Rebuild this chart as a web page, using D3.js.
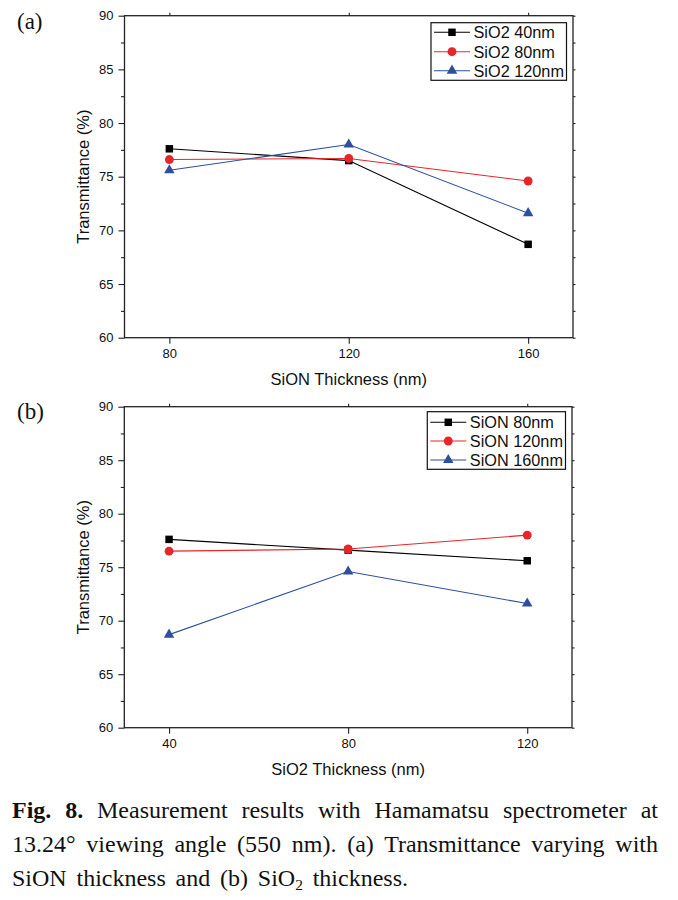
<!DOCTYPE html>
<html><head><meta charset="utf-8">
<script src="https://cdn.jsdelivr.net/npm/d3@7/dist/d3.min.js"></script>
<style>body{margin:0;background:#fff}svg{display:block}</style>
</head><body>
<svg id="c" width="678" height="900"></svg>
<script>
// ---- data ----
const sionThickness = [80, 120, 160];          // panel (a) x categories (nm)
const sio2Thickness = [40, 80, 120];           // panel (b) x categories (nm)
const panelANames = ["SiO2 40nm", "SiO2 80nm", "SiO2 120nm"];
const panelA_SiO2_40 = [77.6, 76.5, 68.7];
const panelA_SiO2_80 = [76.6, 76.7, 74.6];
const panelA_SiO2_120 = [75.6, 78.0, 71.6];
const panelBNames = ["SiON 80nm", "SiON 120nm", "SiON 160nm"];
const panelB_SiON_80 = [77.6, 76.6, 75.6];
const panelB_SiON_120 = [76.5, 76.7, 78.0];
const panelB_SiON_160 = [68.7, 74.6, 71.6];
const yTickValues = [60, 65, 70, 75, 80, 85, 90];
const yMinorValues = [62.5, 67.5, 72.5, 77.5, 82.5, 87.5];
const seriesColors = ["#000000", "#e8262a", "#2d4f9e"];
const seriesSymbols = [d3.symbolSquare, d3.symbolCircle, d3.symbolTriangle];
const symbolSizes = [56, 62, 48];

const svg = d3.select("#c");
const SANS = "'Liberation Sans', Arial, sans-serif";
const SERIF = "'Liberation Serif', 'Times New Roman', serif";

function drawPanel(o) {
  const x = d3.scaleLinear().domain(o.xDomain).range([o.left, o.right]);
  const y = d3.scaleLinear().domain([60, 90]).range([o.bottom, o.top]);
  const g = svg.append("g");
  const axisColor = "#222";

  const la = g.append("g").attr("transform", `translate(${o.left},0)`)
    .call(d3.axisLeft(y).tickValues(yTickValues).tickSize(6).tickPadding(5).tickSizeOuter(0));
  const lm = g.append("g").attr("transform", `translate(${o.left},0)`)
    .call(d3.axisLeft(y).tickValues(yMinorValues).tickSize(3.5).tickFormat("").tickSizeOuter(0));
  const ra = g.append("g").attr("transform", `translate(${o.right},0)`)
    .call(d3.axisRight(y).tickValues(yTickValues.concat(yMinorValues)).tickSize(2.5).tickFormat("").tickSizeOuter(0));
  const ba = g.append("g").attr("transform", `translate(0,${o.bottom})`)
    .call(d3.axisBottom(x).tickValues(o.xTicks).tickSize(6).tickPadding(5).tickSizeOuter(0));
  const ta = g.append("g").attr("transform", `translate(0,${o.top})`)
    .call(d3.axisTop(x).tickValues(o.xTicks).tickSize(3).tickFormat("").tickSizeOuter(0));
  [la, lm, ra, ba, ta].forEach(a => {
    a.select(".domain").remove();
    a.selectAll("line").attr("stroke", axisColor).attr("stroke-width", 1.1);
    a.selectAll("text").attr("font-family", SANS).attr("font-size", 13).attr("fill", "#111");
  });
  g.append("rect").attr("x", o.left).attr("y", o.top)
    .attr("width", o.right - o.left).attr("height", o.bottom - o.top)
    .attr("fill", "none").attr("stroke", axisColor).attr("stroke-width", 1.3);

  g.append("text").attr("x", (o.left + o.right) / 2).attr("y", o.bottom + 47)
    .attr("text-anchor", "middle").attr("font-family", SANS).attr("font-size", 16.5)
    .attr("fill", "#111").text(o.xTitle);
  g.append("text").attr("transform", `translate(${o.left - 41},${(o.top + o.bottom) / 2}) rotate(-90)`)
    .attr("text-anchor", "middle").attr("dy", "0.35em").attr("font-family", SANS).attr("font-size", 16.5)
    .attr("fill", "#111").text("Transmittance (%)");
  g.append("text").attr("x", 17).attr("y", o.labelY).attr("font-family", SERIF)
    .attr("font-size", 23).attr("fill", "#111").text(o.label);

  const line = d3.line().x(d => x(d[0])).y(d => y(d[1]));
  o.series.forEach((vals, i) => {
    const pts = o.xCats.map((c, j) => [c, vals[j]]);
    const sg = g.append("g");
    sg.append("path").datum(pts).attr("d", line).attr("fill", "none")
      .attr("stroke", seriesColors[i]).attr("stroke-width", 1.1);
    sg.selectAll("path.m").data(pts).join("path").attr("class", "m")
      .attr("transform", d => `translate(${x(d[0])},${y(d[1])})`)
      .attr("d", d3.symbol().type(seriesSymbols[i]).size(symbolSizes[i]))
      .attr("fill", seriesColors[i]);
  });

  const lg = g.append("g");
  const boxRight = o.right - 6.5;
  const texts = o.names.map((n, i) => lg.append("text").attr("font-family", SANS)
    .attr("font-size", 16.3).attr("fill", "#111").attr("y", o.legendRows[i]).attr("dy", "0.36em").text(n));
  const maxW = d3.max(texts, t => t.node().getComputedTextLength());
  const textX = boxRight - 2.5 - maxW;
  texts.forEach(t => t.attr("x", textX));
  const mx = textX - 21.5;
  o.names.forEach((n, i) => {
    lg.append("line").attr("x1", mx - 18).attr("x2", mx + 18)
      .attr("y1", o.legendRows[i]).attr("y2", o.legendRows[i])
      .attr("stroke", seriesColors[i]).attr("stroke-width", 1.1);
    lg.append("path").attr("transform", `translate(${mx},${o.legendRows[i]})`)
      .attr("d", d3.symbol().type(seriesSymbols[i]).size(symbolSizes[i]))
      .attr("fill", seriesColors[i]);
  });
  lg.insert("rect", ":first-child").attr("x", mx - 21).attr("y", o.legendTop)
    .attr("width", boxRight - (mx - 21)).attr("height", o.legendBottom - o.legendTop)
    .attr("fill", "#fff").attr("stroke", "#111").attr("stroke-width", 1.2);
}

drawPanel({
  label: "(a)", labelY: 29,
  left: 124.5, right: 573, top: 15.7, bottom: 337.7,
  xDomain: [70, 170], xTicks: sionThickness, xCats: sionThickness,
  xTitle: "SiON Thickness (nm)",
  series: [panelA_SiO2_40, panelA_SiO2_80, panelA_SiO2_120], names: panelANames,
  legendTop: 22.7, legendBottom: 80.3, legendRows: [32.3, 51.7, 70.7]
});
drawPanel({
  label: "(b)", labelY: 419,
  left: 124.3, right: 572, top: 406.7, bottom: 727.7,
  xDomain: [30, 130], xTicks: sio2Thickness, xCats: sio2Thickness,
  xTitle: "SiO2 Thickness (nm)",
  series: [panelB_SiON_80, panelB_SiON_120, panelB_SiON_160], names: panelBNames,
  legendTop: 411.7, legendBottom: 469.3, legendRows: [422.3, 441, 460]
});

// caption
const cap = svg.append("g").attr("font-family", SERIF).attr("font-size", 24).attr("fill", "#111");
const capLeft = 12, capRight = 658;
const l1 = cap.append("text").attr("x", capLeft).attr("y", 818);
l1.append("tspan").attr("font-weight", "bold").text("Fig. 8.");
l1.append("tspan").text(" Measurement results with Hamamatsu spectrometer at");
const l2 = cap.append("text").attr("x", capLeft).attr("y", 852)
  .text("13.24\u00B0 viewing angle (550 nm). (a) Transmittance varying with");
const l3 = cap.append("text").attr("x", capLeft).attr("y", 886);
l3.append("tspan").text("SiON thickness and (b) SiO");
l3.append("tspan").attr("font-size", 15.5).attr("dy", 4).text("2");
l3.append("tspan").attr("dy", -4).text(" thickness.");
function justify(t, target, nSpaces) {
  const w = t.node().getComputedTextLength();
  t.attr("word-spacing", (target - w) / nSpaces);
}
justify(l1, capRight - capLeft, 7);
justify(l2, capRight - capLeft, 8);
justify(l3, 408 - capLeft, 5);
</script>
</body></html>
